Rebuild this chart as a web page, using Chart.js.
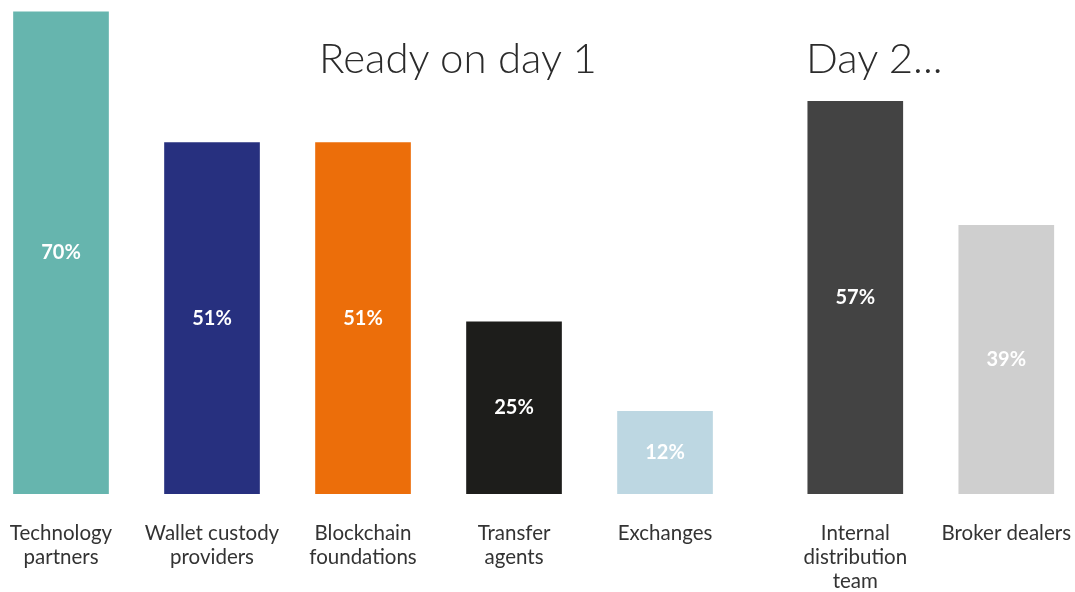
<!DOCTYPE html>
<html>
<head>
<meta charset="utf-8">
<script src="https://cdn.jsdelivr.net/npm/chart.js@4/dist/chart.umd.min.js"></script>
<style>
  html, body { margin: 0; padding: 0; background: #fff; }
  #wrap { position: relative; width: 1075px; height: 592px; }
  .head { position: absolute; top: 36px; font-family: Lato, "Open Sans", sans-serif; font-weight: 300;
          font-size: 42px; color: #2b2b2b; line-height: 1; white-space: nowrap; }
</style>
</head>
<body>
<div id="wrap">
  <canvas id="chart" width="1075" height="592"></canvas>
  <div class="head" style="left:319px">Ready on day 1</div>
  <div class="head" style="left:806px">Day 2...</div>
</div>
<script>
// ── data ─────────────────────────────────────────────────────────────────────
const categories = [
  ['Technology', 'partners'],
  ['Wallet custody', 'providers'],
  ['Blockchain', 'foundations'],
  ['Transfer', 'agents'],
  ['Exchanges'],
  ['Internal', 'distribution', 'team'],
  ['Broker dealers']
];
const values = [70, 51, 51, 25, 12, 57, 39];
const groups = [1, 1, 1, 1, 1, 2, 2];   // day 1 / day 2
const colors = ['#66b5ae', '#27307f', '#ec6e0a', '#1d1d1b', '#bdd7e2', '#434343', '#cfcfcf'];

const GROUP_GAP = 0.26;                 // extra space between the two groups (in bar slots)
const points = values.map((v, i) => ({ x: i + (groups[i] - 1) * GROUP_GAP, y: v }));

// value inside each bar + category name under it
const barLabels = {
  id: 'barLabels',
  afterDatasetsDraw(chart) {
    const ctx = chart.ctx;
    const meta = chart.getDatasetMeta(0);
    ctx.save();
    ctx.textAlign = 'center';
    ctx.textBaseline = 'middle';
    meta.data.forEach((bar, i) => {
      ctx.fillStyle = '#ffffff';
      ctx.font = 'bold 20px Lato, "Open Sans", sans-serif';
      ctx.fillText(values[i] + '%', bar.x, (bar.y + bar.base) / 2);

      ctx.fillStyle = '#333333';
      ctx.font = '20.5px Lato, "Open Sans", sans-serif';
      categories[i].forEach((line, j) => {
        ctx.fillText(line, bar.x, bar.base + 39 + j * 24);
      });
    });
    ctx.restore();
  }
};

new Chart(document.getElementById('chart').getContext('2d'), {
  type: 'bar',
  data: {
    datasets: [{
      data: points,
      backgroundColor: colors,
      borderWidth: 0,
      barThickness: 95
    }]
  },
  options: {
    responsive: false,
    animation: false,
    layout: { padding: { top: 0, bottom: 98, left: 0, right: 0 } },
    plugins: { legend: { display: false }, tooltip: { enabled: false } },
    scales: {
      x: { type: 'linear', display: false, offset: false, min: -0.404, max: 6.715 },
      y: { display: false, min: 0, max: 71.7 }
    }
  },
  plugins: [barLabels]
});
</script>
</body>
</html>
